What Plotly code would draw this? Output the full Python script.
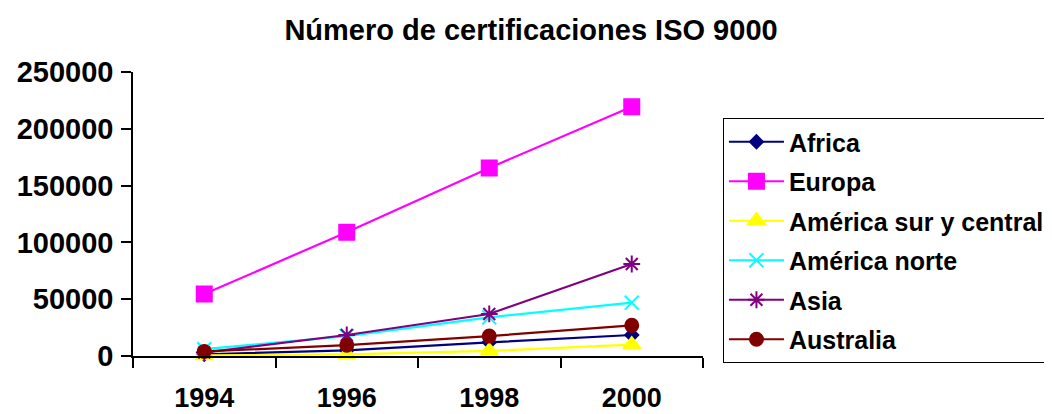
import plotly.graph_objects as go

years = ["1994", "1996", "1998", "2000"]
africa = [1500, 5000, 12000, 18500]
europa = [54500, 109000, 165500, 219500]
am_sur = [500, 1500, 4500, 10000]
am_norte = [6000, 17500, 34000, 47000]
asia = [3000, 18500, 37000, 81000]
australia = [4000, 9500, 17500, 27000]

y_ticks = [0, 50000, 100000, 150000, 200000, 250000]

series = [
    ("Africa", africa, "#000080", "diamond", 10),
    ("Europa", europa, "#FF00FF", "square", 15),
    ("América sur y central", am_sur, "#FFFF00", "triangle-up", 15),
    ("América norte", am_norte, "#00FFFF", "x-thin-open", 14),
    ("Asia", asia, "#800080", "asterisk-open", 14),
    ("Australia", australia, "#800000", "circle", 13),
]

FONT = "Liberation Sans, Arial, sans-serif"
fig = go.Figure()
for i, (name, vals, col, sym, sz) in enumerate(series):
    fig.add_trace(go.Scatter(
        x=years, y=vals, name=name, mode="lines+markers",
        line=dict(color=col, width=2.2),
        marker=dict(symbol=sym, size=sz, color=col, line=dict(color=col, width=2)),
        cliponaxis=False, legendgroup=f"g{i}",
    ))

# page has an 8px body margin; figure is sized to fill the rest of the window
fig.update_layout(
    width=1044, height=406,
    margin=dict(l=125, r=349, t=64, b=58, autoexpand=False),
    paper_bgcolor="white", plot_bgcolor="white",
    font=dict(family=FONT, color="black"),
    title=dict(text="<b>Número de certificaciones ISO 9000</b>", x=0.501, xref="container",
               y=0.947, yref="container", yanchor="middle",
               font=dict(size=29, family=FONT, color="black")),
    legend=dict(x=1.035, xanchor="left", y=0.838, yanchor="top",
                bordercolor="black", borderwidth=1, bgcolor="white",
                font=dict(size=25, family=FONT, color="black", weight="bold"),
                traceorder="grouped", tracegroupgap=4, itemwidth=55),
    showlegend=True,
)
fig.update_xaxes(
    type="category", range=[-0.5, 3.5], tickson="boundaries", automargin=False,
    ticks="outside", ticklen=10, tickwidth=1.5, tickcolor="black",
    showline=True, linecolor="black", linewidth=1.5, showgrid=False,
    tickfont=dict(size=27, family=FONT, weight="bold"), ticklabelstandoff=17,
)
fig.update_yaxes(
    range=[0, 250000], tickvals=y_ticks, ticktext=[str(v) for v in y_ticks], automargin=False,
    ticks="outside", ticklen=10, tickwidth=1.5, tickcolor="black",
    showline=True, linecolor="black", linewidth=1.5, showgrid=False, zeroline=False,
    tickfont=dict(size=29, family=FONT, weight="bold"), ticklabelstandoff=2,
)
fig.write_html("out.html")
